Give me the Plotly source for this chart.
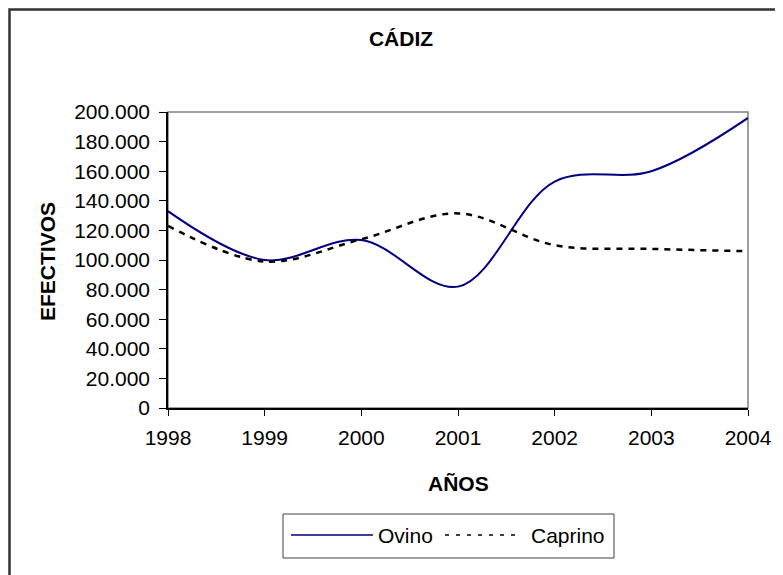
import plotly.graph_objects as go

years = [1998, 1999, 2000, 2001, 2002, 2003, 2004]
ovino = [133000, 100000, 113500, 82000, 153000, 160000, 196000]
caprino = [123000, 99000, 114000, 131500, 110000, 107500, 106000]
y_ticks = list(range(0, 200001, 20000))

W, H = 783, 575
OFF = 8                            # page body margin
L, R, T, B = 168, 748, 112, 408    # plot area, screen pixels
FONT = "Liberation Sans, Arial, sans-serif"

def px(x): return (x - L) / (R - L)
def py(y): return (B - y) / (B - T)

fig = go.Figure()
fig.add_trace(go.Scatter(x=years, y=ovino, name="Ovino", mode="lines",
                         line=dict(color="#000080", width=2, shape="spline", smoothing=1)))
fig.add_trace(go.Scatter(x=years, y=caprino, name="Caprino", mode="lines",
                         line=dict(color="black", width=2.5, dash="6px,6px", shape="spline", smoothing=1)))

shapes = [
    # chart area border (right/bottom run off the picture); the page cannot draw left of its margin
    dict(type="rect", xref="paper", yref="paper", x0=px(OFF + 1.5), y0=py(620), x1=px(820), y1=py(OFF + 1.5),
         line=dict(color="#333333", width=2.5), layer="below"),
    # plot area border
    dict(type="rect", xref="paper", yref="paper", x0=0, y0=0, x1=1, y1=1,
         line=dict(color="#808080", width=1.5), layer="below"),
    # legend box and samples
    dict(type="rect", xref="paper", yref="paper", x0=px(283), y0=py(558), x1=px(614), y1=py(514),
         line=dict(color="#404040", width=1)),
    dict(type="line", xref="paper", yref="paper", x0=px(291), x1=px(373), y0=py(535), y1=py(535),
         line=dict(color="#000080", width=1.5)),
    dict(type="line", xref="paper", yref="paper", x0=px(445), x1=px(522), y0=py(535), y1=py(535),
         line=dict(color="black", width=1.5, dash="4px,7px")),
]
annotations = [
    dict(text="Ovino", xref="paper", yref="paper", x=px(376), y=py(535), xanchor="left", yanchor="middle",
         showarrow=False, font=dict(size=21, color="black", family=FONT)),
    dict(text="Caprino", xref="paper", yref="paper", x=px(529), y=py(535), xanchor="left", yanchor="middle",
         showarrow=False, font=dict(size=21, color="black", family=FONT)),
    dict(text="<b>AÑOS</b>", xref="paper", yref="paper", x=px(458), y=py(483), xanchor="center", yanchor="middle",
         showarrow=False, font=dict(size=21, color="black", family=FONT)),
    dict(text="<b>EFECTIVOS</b>", xref="paper", yref="paper", x=px(47), y=py(262), xanchor="center",
         yanchor="middle", textangle=-90, showarrow=False, font=dict(size=21, color="black", family=FONT)),
]

fig.update_layout(
    width=W, height=H, margin=dict(l=L - OFF, r=W - (R - OFF), t=T - OFF, b=H - (B - OFF)),
    paper_bgcolor="white", plot_bgcolor="white", showlegend=False,
    separators=",.",
    font=dict(family=FONT, size=21, color="black"),
    title=dict(text="<b>CÁDIZ</b>", x=(401 - OFF) / W, xanchor="center", y=1 - (39 - OFF) / H, yanchor="middle",
               font=dict(size=21, family=FONT, color="black")),
    shapes=shapes, annotations=annotations,
)
fig.update_xaxes(range=[1998, 2004], tickvals=years, ticktext=[str(y) for y in years],
                 showgrid=False, zeroline=False, showline=True, linecolor="black", linewidth=1.5,
                 ticks="outside", ticklen=6, tickcolor="black", ticklabelstandoff=4)
fig.update_yaxes(range=[0, 200000], tickvals=y_ticks, tickformat=",d",
                 showgrid=False, zeroline=False, showline=True, linecolor="black", linewidth=1.5,
                 ticks="outside", ticklen=7, tickcolor="black", ticklabelstandoff=5)

fig.write_html("out.html")
